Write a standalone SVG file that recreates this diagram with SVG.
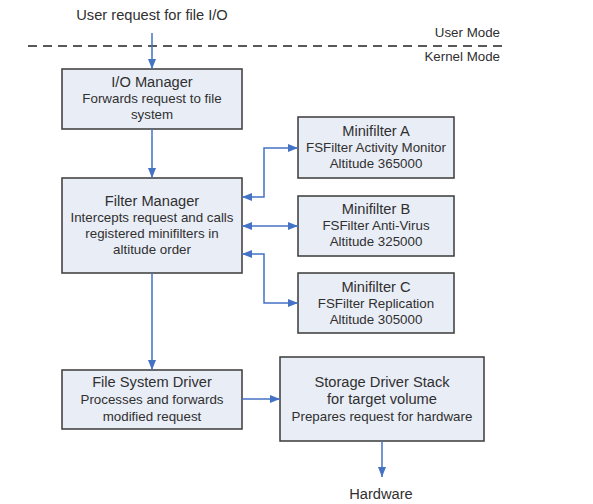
<svg xmlns="http://www.w3.org/2000/svg" width="593" height="504" viewBox="0 0 593 504">
  <style>
    .box { fill: #E9EDF6; stroke: #3A3A3A; stroke-width: 1.5; }
    text { font-family: "Liberation Sans", Arial, sans-serif; fill: #303030; text-anchor: middle; }
    .t { font-size: 14.67px; }
    .b { font-size: 13.33px; }
    .conn { fill: none; stroke: #4472C4; stroke-width: 1.5; }
  </style>
  <defs>
    <marker id="ah" markerUnits="userSpaceOnUse" markerWidth="10" markerHeight="10" viewBox="0 0 10 10" refX="10" refY="5" orient="auto-start-reverse">
      <path d="M0,1 L10,5 L0,9 Z" fill="#4472C4"/>
    </marker>
  </defs>
  <rect width="593" height="504" fill="#FFFFFF"/>

  <g id="labels">
    <text class="t" x="152" y="20">User request for file I/O</text>
    <line x1="28" y1="46" x2="505" y2="46" stroke="#222" stroke-width="1.3" stroke-dasharray="9,6"/>
    <text class="b" x="500" y="37" style="text-anchor:end">User Mode</text>
    <text class="b" x="500" y="61" style="text-anchor:end">Kernel Mode</text>
    <text class="t" x="381" y="499">Hardware</text>
  </g>

  <g id="io-manager">
    <rect class="box" x="62" y="69" width="180" height="60"/>
    <text class="t" x="152" y="87">I/O Manager</text>
    <text class="b" x="152" y="103">Forwards request to file</text>
    <text class="b" x="152" y="119">system</text>
  </g>

  <g id="filter-manager">
    <rect class="box" x="62" y="178" width="180" height="95"/>
    <text class="t" x="152" y="206">Filter Manager</text>
    <text class="b" x="152" y="222">Intercepts request and calls</text>
    <text class="b" x="152" y="238">registered minifilters in</text>
    <text class="b" x="152" y="254">altitude order</text>
  </g>

  <g id="minifilter-a">
    <rect class="box" x="298" y="117" width="156" height="61"/>
    <text class="t" x="376" y="136">Minifilter A</text>
    <text class="b" x="376" y="152">FSFilter Activity Monitor</text>
    <text class="b" x="376" y="168">Altitude 365000</text>
  </g>

  <g id="minifilter-b">
    <rect class="box" x="298" y="196" width="156" height="60"/>
    <text class="t" x="376" y="214">Minifilter B</text>
    <text class="b" x="376" y="230">FSFilter Anti-Virus</text>
    <text class="b" x="376" y="246">Altitude 325000</text>
  </g>

  <g id="minifilter-c">
    <rect class="box" x="298" y="273" width="156" height="60"/>
    <text class="t" x="376" y="292">Minifilter C</text>
    <text class="b" x="376" y="308">FSFilter Replication</text>
    <text class="b" x="376" y="324">Altitude 305000</text>
  </g>

  <g id="file-system-driver">
    <rect class="box" x="62" y="370" width="180" height="59"/>
    <text class="t" x="152" y="387">File System Driver</text>
    <text class="b" x="152" y="404">Processes and forwards</text>
    <text class="b" x="152" y="421">modified request</text>
  </g>

  <g id="storage-driver-stack">
    <rect class="box" x="280" y="357" width="204" height="84"/>
    <text class="t" x="382" y="387">Storage Driver Stack</text>
    <text class="t" x="382" y="404">for target volume</text>
    <text class="b" x="382" y="421">Prepares request for hardware</text>
  </g>

  <g id="connectors">
    <path class="conn" d="M152,33 V69" marker-end="url(#ah)"/>
    <path class="conn" d="M152,129 V178" marker-end="url(#ah)"/>
    <path class="conn" d="M242,197 H264 V148 H298" marker-start="url(#ah)" marker-end="url(#ah)"/>
    <path class="conn" d="M242,226 H298" marker-start="url(#ah)" marker-end="url(#ah)"/>
    <path class="conn" d="M242,254 H264 V303 H298" marker-start="url(#ah)" marker-end="url(#ah)"/>
    <path class="conn" d="M152,273 V370" marker-end="url(#ah)"/>
    <path class="conn" d="M242,399 H280" marker-end="url(#ah)"/>
    <path class="conn" d="M382,441 V477" marker-end="url(#ah)"/>
  </g>
</svg>
